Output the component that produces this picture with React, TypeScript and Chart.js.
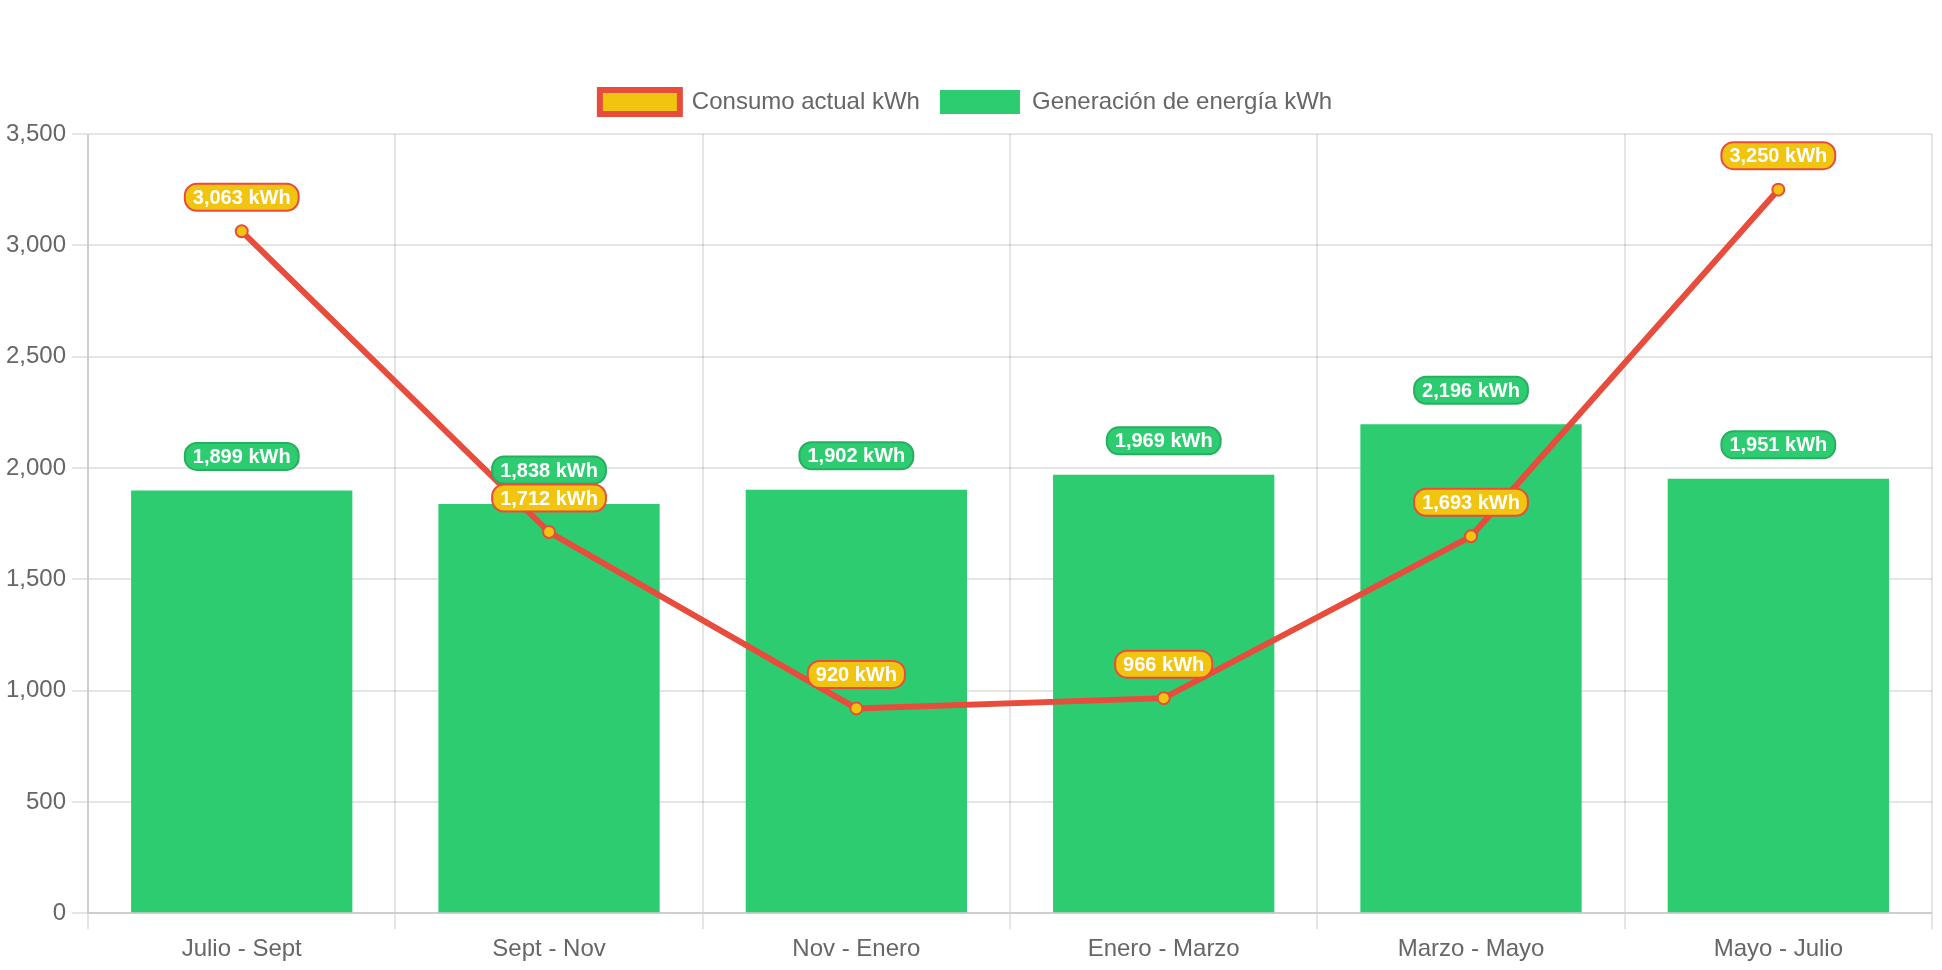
import React, { useEffect, useRef } from "react";
import { Chart, registerables } from "chart.js";

Chart.register(...registerables);

const categories = ["Julio - Sept", "Sept - Nov", "Nov - Enero", "Enero - Marzo", "Marzo - Mayo", "Mayo - Julio"];
const consumo = [3063, 1712, 920, 966, 1693, 3250];
const generacion = [1899, 1838, 1902, 1969, 2196, 1951];
const yTicks = [0, 500, 1000, 1500, 2000, 2500, 3000, 3500];
const consumoLabel = "Consumo actual kWh";
const generacionLabel = "Generación de energía kWh";
const unit = " kWh";

const FONT = "'Liberation Sans', Arial, Helvetica, sans-serif";

const labelPlugin = {
  id: "valueLabels",
  afterDatasetsDraw(chart: any) {
    const ctx = chart.ctx;
    const styles: Record<number, { bg: string; border: string }> = {
      0: { bg: "#f1c40f", border: "#e74c3c" },
      1: { bg: "#2ecc71", border: "#27ae60" },
    };
    const order = [1, 0];
    ctx.save();
    ctx.font = `bold 10px ${FONT}`;
    ctx.textAlign = "center";
    ctx.textBaseline = "middle";
    for (const di of order) {
      const meta = chart.getDatasetMeta(di);
      const data = chart.data.datasets[di].data as number[];
      meta.data.forEach((el: any, i: number) => {
        const text = data[i].toLocaleString("en-US") + unit;
        const w = ctx.measureText(text).width + 8;
        const h = 13.5;
        const cx = el.x;
        const cy = el.y - 17;
        const x = cx - w / 2;
        const y = cy - h / 2;
        const r = 6;
        ctx.beginPath();
        ctx.moveTo(x + r, y);
        ctx.lineTo(x + w - r, y);
        ctx.arcTo(x + w, y, x + w, y + r, r);
        ctx.arcTo(x + w, y + h, x + w - r, y + h, r);
        ctx.lineTo(x + r, y + h);
        ctx.arcTo(x, y + h, x, y + h - r, r);
        ctx.arcTo(x, y, x + r, y, r);
        ctx.closePath();
        ctx.fillStyle = styles[di].bg;
        ctx.fill();
        ctx.lineWidth = 1;
        ctx.strokeStyle = styles[di].border;
        ctx.stroke();
        ctx.fillStyle = "#ffffff";
        ctx.fillText(text, cx, cy + 0.5);
      });
    }
    ctx.restore();
  },
};

export default function App() {
  const ref = useRef<HTMLCanvasElement | null>(null);
  useEffect(() => {
    if (!ref.current) return;
    const chart = new Chart(ref.current, {
      type: "bar",
      data: {
        labels: categories,
        datasets: [
          {
            type: "line",
            label: consumoLabel,
            data: consumo,
            borderColor: "#e74c3c",
            backgroundColor: "#f1c40f",
            borderWidth: 3,
            pointRadius: 3,
            pointBorderWidth: 1,
            pointBackgroundColor: "#f1c40f",
            pointBorderColor: "#e74c3c",
            tension: 0,
            fill: false,
          } as any,
          {
            type: "bar",
            label: generacionLabel,
            data: generacion,
            backgroundColor: "#2ecc71",
            borderWidth: 0,
          },
        ],
      },
      options: {
        animation: false,
        responsive: true,
        maintainAspectRatio: false,
        devicePixelRatio: 2,
        layout: { padding: { top: 35, right: 5, left: 0, bottom: 0 } },
        plugins: {
          legend: {
            labels: {
              font: { size: 12, family: FONT },
              color: "#666",
              boxWidth: 40,
              boxHeight: 12,
              padding: 10,
            },
          },
          tooltip: { enabled: false },
        },
        scales: {
          x: {
            ticks: { font: { size: 12, family: FONT }, color: "#666" },
            grid: { color: "rgba(0,0,0,0.1)" },
          },
          y: {
            min: yTicks[0],
            max: yTicks[yTicks.length - 1],
            afterBuildTicks: (axis: any) => {
              axis.ticks = yTicks.map((v) => ({ value: v }));
            },
            ticks: { font: { size: 12, family: FONT }, color: "#666" },
            grid: { color: "rgba(0,0,0,0.1)" },
          },
        },
      },
      plugins: [labelPlugin],
    });
    return () => chart.destroy();
  }, []);
  return (
    <div
      style={{
        position: "fixed",
        left: 0,
        top: 0,
        width: 971,
        height: 485,
        transform: "scale(2)",
        transformOrigin: "0 0",
      }}
    >
      <canvas ref={ref} />
    </div>
  );
}
